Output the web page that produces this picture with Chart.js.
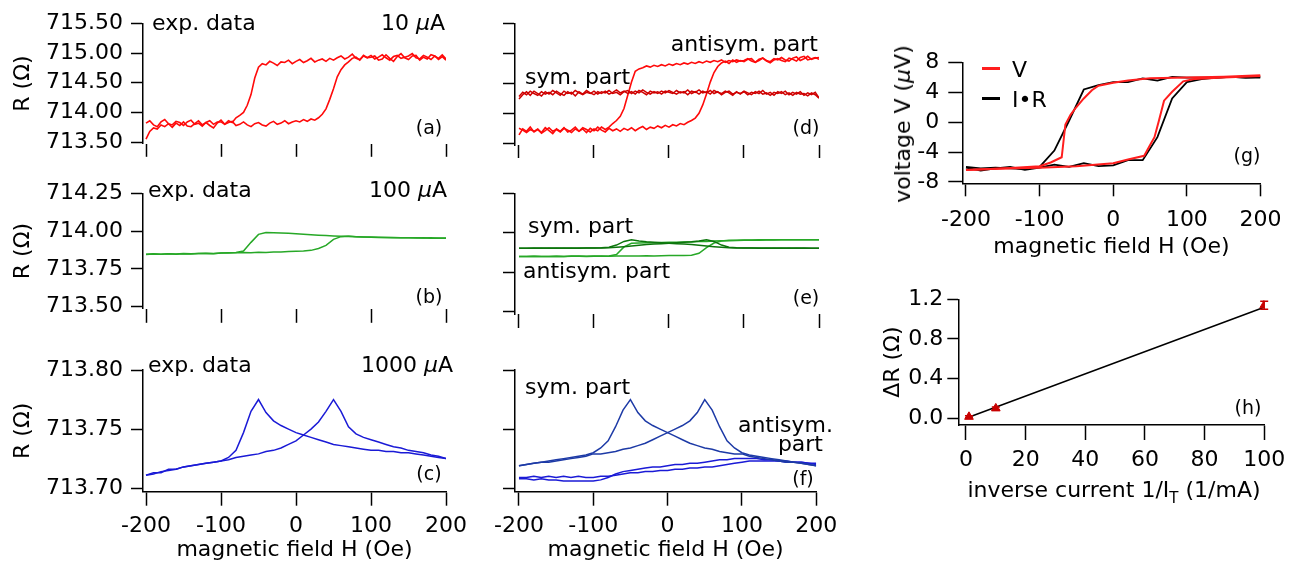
<!DOCTYPE html>
<html>
<head>
<meta charset="utf-8">
<script src="https://cdn.jsdelivr.net/npm/chart.js@4.4.0/dist/chart.umd.min.js"></script>
<style>
  body { margin: 0; background: #fff; }
  #fig { position: relative; width: 1292px; height: 565px; overflow: hidden; font-family: 'DejaVu Sans', sans-serif; color: #000; }
  #fig canvas { position: absolute; }
  .lbl { position: absolute; font-size: 22px; line-height: 1; white-space: nowrap; }
  .tag { font-size: 19px; }
  .key { position: absolute; height: 2.5px; width: 18px; }
</style>
</head>
<body>
<div id="fig">
  <canvas id="chartA"></canvas>
  <canvas id="chartB"></canvas>
  <canvas id="chartC"></canvas>
  <canvas id="chartD"></canvas>
  <canvas id="chartE"></canvas>
  <canvas id="chartF"></canvas>
  <canvas id="chartG"></canvas>
  <canvas id="chartH"></canvas>
</div>
<script>
'use strict';

// field sweeps (Oe)
const fieldFine = [
  -200, -195, -190, -185, -180, -175, -170, -165, -160, -155,
  -150, -145, -140, -135, -130, -125, -120, -115, -110, -105,
  -100, -95, -90, -85, -80, -75, -70, -65, -60, -55,
  -50, -45, -40, -35, -30, -25, -20, -15, -10, -5,
  0, 5, 10, 15, 20, 25, 30, 35, 40, 45,
  50, 55, 60, 65, 70, 75, 80, 85, 90, 95,
  100, 105, 110, 115, 120, 125, 130, 135, 140, 145,
  150, 155, 160, 165, 170, 175, 180, 185, 190, 195,
  200
];
const fieldCoarse = [
  -200, -190, -180, -170, -160, -150, -140, -130, -120, -110,
  -100, -90, -80, -70, -60, -50, -40, -30, -20, -10,
  0, 10, 20, 30, 40, 50, 60, 70, 80, 90,
  100, 110, 120, 130, 140, 150, 160, 170, 180, 190,
  200
];
const fieldStep20 = [-200, -180, -160, -140, -120, -100, -80, -60, -40, -20, 0, 20, 40, 60, 80, 100, 120, 140, 160, 180, 200];

// (a) 10 uA, exp. data
const rA_up = [
  713.55, 713.68, 713.74, 713.72, 713.79, 713.76, 713.81, 713.75, 713.82, 713.78,
  713.84, 713.77, 713.76, 713.81, 713.86, 713.79, 713.83, 713.78, 713.74, 713.82,
  713.87, 713.80, 713.83, 713.85, 713.78, 713.80, 713.84, 713.79, 713.76, 713.81,
  713.83, 713.79, 713.77, 713.82, 713.85, 713.80, 713.82, 713.86, 713.81, 713.84,
  713.86, 713.84, 713.88, 713.85, 713.89, 713.87, 713.91, 713.97, 714.06, 714.22,
  714.40, 714.60, 714.72, 714.80, 714.85, 714.91, 714.93, 714.88, 714.96, 714.92,
  714.93, 714.95, 714.88, 714.90, 714.97, 714.91, 714.86, 714.94, 714.99, 714.92,
  714.89, 714.95, 714.96, 714.88, 714.93, 714.90, 714.97, 714.95, 714.89, 714.94,
  714.88
];
const rA_down = [
  713.82, 713.86, 713.79, 713.76, 713.84, 713.88, 713.81, 713.79, 713.85, 713.83,
  713.78, 713.84, 713.87, 713.80, 713.82, 713.77, 713.83, 713.86, 713.80, 713.84,
  713.84, 713.80, 713.86, 713.83, 713.91, 713.95, 714.00, 714.12, 714.30, 714.58,
  714.76, 714.82, 714.80, 714.86, 714.83, 714.79, 714.85, 714.84, 714.88, 714.82,
  714.86, 714.89, 714.84, 714.87, 714.91, 714.85, 714.88, 714.90, 714.86, 714.91,
  714.88, 714.92, 714.95, 714.90, 714.93, 714.98, 714.91, 714.89, 714.95, 714.92,
  714.96, 714.90, 714.93, 714.97, 714.92, 714.88, 714.94, 714.96, 714.91, 714.93,
  714.95, 714.99, 714.92, 714.90, 714.96, 714.93, 714.89, 714.95, 714.91, 714.97,
  714.90
];

// (d) 10 uA, sym. / antisym. parts
const rD_antiUp = [
  713.64, 713.74, 713.70, 713.77, 713.69, 713.73, 713.68, 713.76, 713.71, 713.66,
  713.74, 713.70, 713.76, 713.69, 713.72, 713.77, 713.70, 713.74, 713.68, 713.75,
  713.71, 713.77, 713.72, 713.69, 713.75, 713.71, 713.74, 713.70, 713.75, 713.72,
  713.76, 713.71, 713.75, 713.78, 713.73, 713.77, 713.75, 713.79, 713.76, 713.80,
  713.77, 713.81, 713.79, 713.83, 713.81, 713.85, 713.88, 713.92, 714.00, 714.14,
  714.32, 714.52, 714.68, 714.78, 714.84, 714.87, 714.83, 714.89, 714.85, 714.88,
  714.86, 714.90, 714.91, 714.85, 714.88, 714.92, 714.87, 714.84, 714.89, 714.91,
  714.88, 714.86, 714.92, 714.90, 714.87, 714.93, 714.95, 714.89, 714.91, 714.93,
  714.90
];
const rD_antiDown = [
  713.75, 713.72, 713.68, 713.73, 713.70, 713.74, 713.67, 713.71, 713.76, 713.70,
  713.73, 713.69, 713.75, 713.72, 713.68, 713.74, 713.70, 713.76, 713.73, 713.69,
  713.74, 713.71, 713.77, 713.73, 713.77, 713.83, 713.88, 713.95, 714.08, 714.30,
  714.52, 714.70, 714.74, 714.76, 714.79, 714.77, 714.80, 714.78, 714.81, 714.79,
  714.82, 714.80, 714.83, 714.81, 714.84, 714.82, 714.85, 714.83, 714.86, 714.84,
  714.87, 714.85, 714.88, 714.86, 714.89, 714.85, 714.88, 714.86, 714.89, 714.87,
  714.88, 714.91, 714.87, 714.85, 714.90, 714.92, 714.88, 714.86, 714.91, 714.89,
  714.93, 714.89, 714.87, 714.92, 714.94, 714.88, 714.91, 714.95, 714.90, 714.92,
  714.93
];
const rD_symUp = [
  714.24, 714.31, 714.36, 714.30, 714.37, 714.33, 714.29, 714.36, 714.32, 714.38,
  714.34, 714.30, 714.37, 714.33, 714.35, 714.29, 714.36, 714.32, 714.38, 714.34,
  714.31, 714.36, 714.33, 714.37, 714.32, 714.35, 714.39, 714.34, 714.37, 714.33,
  714.36, 714.32, 714.38, 714.35, 714.31, 714.37, 714.34, 714.36, 714.32, 714.37,
  714.35, 714.33, 714.38, 714.34, 714.36, 714.31, 714.37, 714.35, 714.39, 714.34,
  714.36, 714.32, 714.38, 714.35, 714.33, 714.37, 714.34, 714.30, 714.36, 714.32,
  714.37, 714.34, 714.31, 714.36, 714.33, 714.38, 714.32, 714.35, 714.30, 714.36,
  714.33, 714.37, 714.31, 714.35, 714.32, 714.36, 714.30, 714.34, 714.31, 714.35,
  714.26
];
const rD_symDown = [
  714.28, 714.35, 714.31, 714.37, 714.33, 714.30, 714.36, 714.32, 714.35, 714.31,
  714.37, 714.33, 714.30, 714.36, 714.32, 714.38, 714.34, 714.31, 714.35, 714.33,
  714.37, 714.32, 714.36, 714.34, 714.38, 714.33, 714.35, 714.31, 714.36, 714.38,
  714.33, 714.37, 714.34, 714.39, 714.35, 714.32, 714.36, 714.33, 714.37, 714.34,
  714.38, 714.35, 714.32, 714.36, 714.34, 714.39, 714.33, 714.36, 714.32, 714.37,
  714.34, 714.38, 714.33, 714.36, 714.31, 714.35, 714.37, 714.32, 714.35, 714.33,
  714.36, 714.31, 714.35, 714.33, 714.37, 714.32, 714.34, 714.30, 714.35, 714.33,
  714.36, 714.31, 714.34, 714.30, 714.35, 714.32, 714.33, 714.29, 714.34, 714.31,
  714.25
];

// (b) 100 uA, exp. data
const rB_up = [
  713.845, 713.848, 713.846, 713.849, 713.847, 713.850, 713.848, 713.851, 713.852, 713.850,
  713.854, 713.855, 713.856, 713.858, 713.857, 713.860, 713.858, 713.862, 713.861, 713.864,
  713.866, 713.868, 713.872, 713.884, 713.905, 713.945, 713.963, 713.966, 713.963, 713.961,
  713.960, 713.959, 713.957, 713.958, 713.956, 713.955, 713.956, 713.954, 713.955, 713.953,
  713.954
];
const rB_down = [
  713.846, 713.849, 713.847, 713.850, 713.848, 713.851, 713.849, 713.852, 713.853, 713.852,
  713.855, 713.856, 713.858, 713.868, 713.925, 713.978, 713.990, 713.989, 713.987, 713.985,
  713.982, 713.979, 713.975, 713.972, 713.970, 713.968, 713.966, 713.965, 713.962, 713.960,
  713.959, 713.958, 713.957, 713.956, 713.956, 713.955, 713.954, 713.955, 713.953, 713.954,
  713.953
];

// (e) 100 uA, sym. / antisym. parts
const rE_antiUp = [
  713.850, 713.849, 713.851, 713.850, 713.849, 713.851, 713.850, 713.852, 713.851, 713.850,
  713.851, 713.852, 713.851, 713.852, 713.853, 713.852, 713.853, 713.854, 713.853, 713.854,
  713.855, 713.855, 713.856, 713.858, 713.870, 713.905, 713.935, 713.948, 713.952, 713.953,
  713.954, 713.954, 713.955, 713.955, 713.956, 713.955, 713.956, 713.956, 713.955, 713.956,
  713.955
];
const rE_antiDown = [
  713.850, 713.850, 713.851, 713.849, 713.850, 713.851, 713.850, 713.851, 713.852, 713.851,
  713.852, 713.851, 713.853, 713.862, 713.910, 713.933, 713.935, 713.936, 713.937, 713.938,
  713.939, 713.940, 713.941, 713.942, 713.944, 713.945, 713.947, 713.949, 713.950, 713.951,
  713.952, 713.953, 713.953, 713.954, 713.954, 713.955, 713.955, 713.955, 713.956, 713.955,
  713.956
];
const rE_symA = [
  713.902, 713.902, 713.903, 713.902, 713.903, 713.902, 713.903, 713.902, 713.903, 713.903,
  713.904, 713.905, 713.908, 713.922, 713.945, 713.955, 713.948, 713.943, 713.940, 713.937,
  713.934, 713.931, 713.928, 713.925, 713.921, 713.916, 713.912, 713.908, 713.905, 713.904,
  713.903, 713.903, 713.902, 713.903, 713.902, 713.903, 713.902, 713.903, 713.902, 713.902,
  713.902
];
const rE_symB = [
  713.902, 713.902, 713.902, 713.903, 713.902, 713.903, 713.902, 713.903, 713.902, 713.903,
  713.903, 713.904, 713.905, 713.908, 713.912, 713.916, 713.921, 713.925, 713.928, 713.931,
  713.934, 713.937, 713.940, 713.943, 713.948, 713.955, 713.945, 713.922, 713.908, 713.905,
  713.904, 713.903, 713.903, 713.902, 713.903, 713.902, 713.903, 713.902, 713.903, 713.902,
  713.902
];

// (c) 1000 uA, exp. data
const rC_up = [
  713.711, 713.713, 713.713, 713.716, 713.716, 713.718, 713.719, 713.720, 713.721, 713.722,
  713.723, 713.724, 713.726, 713.727, 713.728, 713.729, 713.731, 713.732, 713.734, 713.737,
  713.740, 713.745, 713.750, 713.756, 713.765, 713.775, 713.765, 713.752, 713.746, 713.743,
  713.741, 713.739, 713.737, 713.735, 713.734, 713.732, 713.731, 713.730, 713.728, 713.727,
  713.725
];
const rC_down = [
  713.711, 713.712, 713.714, 713.715, 713.716, 713.718, 713.719, 713.720, 713.721, 713.722,
  713.723, 713.726, 713.732, 713.747, 713.765, 713.775, 713.764, 713.757, 713.753, 713.750,
  713.747, 713.745, 713.743, 713.741, 713.739, 713.737, 713.736, 713.735, 713.734, 713.733,
  713.732, 713.732, 713.731, 713.731, 713.730, 713.730, 713.729, 713.728, 713.727, 713.726,
  713.725
];

// (f) 1000 uA, sym. / antisym. parts
const rF_symA = [
  713.719, 713.720, 713.721, 713.722, 713.723, 713.724, 713.725, 713.726, 713.727, 713.728,
  713.730, 713.734, 713.740, 713.752, 713.766, 713.775, 713.764, 713.757, 713.753, 713.750,
  713.747, 713.744, 713.741, 713.738, 713.736, 713.734, 713.733, 713.731, 713.730, 713.729,
  713.729, 713.727, 713.726, 713.725, 713.724, 713.723, 713.722, 713.722, 713.721, 713.720,
  713.719
];
const rF_symB = [
  713.719, 713.720, 713.721, 713.722, 713.722, 713.723, 713.724, 713.725, 713.726, 713.727,
  713.729, 713.729, 713.730, 713.731, 713.733, 713.734, 713.736, 713.738, 713.741, 713.744,
  713.747, 713.750, 713.753, 713.757, 713.764, 713.775, 713.766, 713.752, 713.740, 713.734,
  713.730, 713.728, 713.727, 713.726, 713.725, 713.724, 713.723, 713.722, 713.721, 713.720,
  713.719
];
const rF_antiP = [
  713.708, 713.708, 713.707, 713.708, 713.707, 713.707, 713.706, 713.706, 713.706, 713.706,
  713.706, 713.707, 713.709, 713.712, 713.714, 713.715, 713.716, 713.717, 713.718, 713.718,
  713.719, 713.720, 713.720, 713.721, 713.721, 713.722, 713.723, 713.724, 713.724, 713.725,
  713.725, 713.725, 713.725, 713.724, 713.724, 713.723, 713.723, 713.722, 713.722, 713.721,
  713.721
];
const rF_antiQ = [
  713.709, 713.709, 713.710, 713.709, 713.710, 713.709, 713.710, 713.709, 713.710, 713.709,
  713.709, 713.710, 713.710, 713.711, 713.712, 713.713, 713.713, 713.714, 713.714, 713.715,
  713.715, 713.716, 713.716, 713.717, 713.717, 713.718, 713.718, 713.719, 713.720, 713.721,
  713.722, 713.723, 713.723, 713.723, 713.723, 713.723, 713.722, 713.722, 713.722, 713.721,
  713.720
];

// (g) voltage loop: measured V and I*R
const vUpField = [-200, -150, -100, -50, 0, 20, 42, 51, 56, 62, 69, 80, 95, 110, 150, 200];
const vUp = [-6.4, -6.2, -6.1, -5.9, -5.5, -5.0, -4.5, -2.9, -2.0, 0.2, 2.9, 4.1, 5.5, 5.8, 6.0, 6.2];
const vDownField = [-200, -150, -100, -85, -70, -65, -58, -52, -40, -29, -20, 0, 20, 50, 100, 150, 200];
const vDown = [-6.4, -6.2, -5.9, -5.4, -4.7, -0.3, 1.0, 1.8, 3.2, 4.3, 4.9, 5.3, 5.6, 5.9, 6.0, 6.1, 6.3];
const irUp = [-6.1, -6.5, -6.2, -6.0, -6.4, -6.1, -5.7, -6.0, -5.5, -5.9, -5.8, -5.1, -5.1, -2.0, 3.2, 5.4, 5.8, 6.0, 6.1, 6.0, 6.0];
const irDown = [-6.0, -6.2, -6.1, -6.2, -6.3, -6.0, -3.8, 0.2, 4.4, 5.0, 5.4, 5.4, 5.9, 5.6, 6.1, 6.0, 6.0, 6.0, 6.1, 6.0, 6.1];

// (h) delta R vs inverse current
const invCurrent = [1, 10, 100];
const deltaR = [0.015, 0.10, 1.14];
const deltaRErr = [0.01, 0.015, 0.04];
const fitX = [0, 100];
const fitY = [0.0, 1.12];

// tick values
const ticksField = [-200, -100, 0, 100, 200];
const ticksA = [713.5, 714.0, 714.5, 715.0, 715.5];
const ticksB = [713.5, 713.75, 714.0, 714.25];
const ticksC = [713.70, 713.75, 713.80];
const ticksG = [-8, -4, 0, 4, 8];
const ticksHx = [0, 20, 40, 60, 80, 100];
const ticksHy = [0.0, 0.4, 0.8, 1.2];

Chart.defaults.font.family = "'DejaVu Sans', sans-serif";
Chart.defaults.font.size = 22;
Chart.defaults.color = '#000';

function pts(xs, ys) {
  return xs.map((x, i) => ({ x: x, y: ys[i] }));
}

function line(xs, ys, color, width, order) {
  return {
    data: pts(xs, ys), showLine: true, borderColor: color, backgroundColor: color,
    borderWidth: width, pointRadius: 0, tension: 0, order: order || 0
  };
}

function axis(o) {
  return {
    type: 'linear',
    min: o.min,
    max: o.max,
    afterBuildTicks: s => { s.ticks = o.ticks.map(v => ({ value: v })); },
    afterFit: s => {
      if (o.width != null) s.width = o.width;
      if (o.height != null) s.height = o.height;
    },
    border: { display: !!o.line, color: '#000', width: 1.5 },
    grid: { drawOnChartArea: false, drawTicks: true, tickLength: o.tick, tickWidth: 1.5, tickColor: '#000' },
    ticks: {
      display: !!o.fmt, padding: o.pad || 0, color: '#000', font: { size: 22 },
      maxRotation: 0, autoSkip: false,
      callback: o.fmt || (() => '')
    },
    title: o.title
      ? { display: true, text: o.title, color: '#000', font: { size: 22 }, padding: o.titlePad }
      : { display: false }
  };
}

// error bars drawn through the chart's own scales
const errorBars = {
  id: 'errorBars',
  afterDatasetsDraw(chart) {
    const ctx = chart.ctx;
    const xs = chart.scales.x, ys = chart.scales.y;
    chart.data.datasets.forEach(ds => {
      if (!ds.errors) return;
      ctx.save();
      ctx.strokeStyle = ds.borderColor;
      ctx.lineWidth = 1.5;
      ds.data.forEach((p, i) => {
        const px = xs.getPixelForValue(p.x);
        const top = ys.getPixelForValue(p.y + ds.errors[i]);
        const bot = ys.getPixelForValue(p.y - ds.errors[i]);
        ctx.beginPath();
        ctx.moveTo(px, top); ctx.lineTo(px, bot);
        ctx.moveTo(px - 4, top); ctx.lineTo(px + 4, top);
        ctx.moveTo(px - 4, bot); ctx.lineTo(px + 4, bot);
        ctx.stroke();
      });
      ctx.restore();
    });
  }
};

function makePanel(id, box, datasets, xAxis, yAxis) {
  const cv = document.getElementById(id);
  cv.width = box.w;
  cv.height = box.h;
  cv.style.left = box.left + 'px';
  cv.style.top = box.top + 'px';
  return new Chart(cv, {
    type: 'scatter',
    data: { datasets: datasets },
    options: {
      responsive: false,
      animation: false,
      layout: { autoPadding: false, padding: { left: 0, top: box.padTop, right: box.padRight, bottom: 0 } },
      plugins: { legend: { display: false }, tooltip: { enabled: false } },
      scales: { x: xAxis, y: yAxis }
    },
    plugins: [errorBars]
  });
}

const fmt2 = v => v.toFixed(2);
const fmtInt = v => String(v);
const fmt1 = v => v.toFixed(1);
const rTitle = 'R (\u03A9)';
const hTitle = 'magnetic field H (Oe)';

const red = '#ff0a0a', darkRed = '#cf0000';
const green = '#27a827', darkGreen = '#0c750c';
const blue = '#1a1ad6', navy = '#1d3aa6';

// left column
makePanel('chartA', { left: 0, top: 0, w: 470, h: 165, padTop: 23.3, padRight: 24 },
  [line(fieldFine, rA_up, red, 1.6), line(fieldFine, rA_down, red, 1.6)],
  axis({ min: -204, max: 200, ticks: ticksField, tick: 13, height: 20 }),
  axis({ min: 713.472, max: 715.5, ticks: ticksA, tick: 12, pad: 8, fmt: fmt2, line: true, width: 143,
    title: rTitle, titlePad: { top: 10, bottom: 0 } }));

makePanel('chartB', { left: 0, top: 165, w: 470, h: 165, padTop: 28.3, padRight: 24 },
  [line(fieldCoarse, rB_up, green, 1.5), line(fieldCoarse, rB_down, green, 1.5)],
  axis({ min: -204, max: 200, ticks: ticksField, tick: 14, height: 16 }),
  axis({ min: 713.485, max: 714.25, ticks: ticksB, tick: 12, pad: 8, fmt: fmt2, line: true, width: 143,
    title: rTitle, titlePad: { top: 10, bottom: 0 } }));

makePanel('chartC', { left: 0, top: 330, w: 475, h: 235, padTop: 40, padRight: 29 },
  [line(fieldCoarse, rC_up, blue, 1.5), line(fieldCoarse, rC_down, blue, 1.5)],
  axis({ min: -204, max: 200, ticks: ticksField, tick: 14, pad: 7.8, fmt: fmtInt, line: true, height: 73.3,
    title: hTitle, titlePad: { top: 0, bottom: 2 } }),
  axis({ min: 713.697, max: 713.80, ticks: ticksC, tick: 12, pad: 8, fmt: fmt2, line: true, width: 143,
    title: rTitle, titlePad: { top: 10, bottom: 0 } }));

// middle column
makePanel('chartD', { left: 470, top: 0, w: 370, h: 165, padTop: 23.3, padRight: 21 },
  [line(fieldFine, rD_symUp, darkRed, 1.5, 0), line(fieldFine, rD_symDown, darkRed, 1.5, 0),
   line(fieldFine, rD_antiUp, red, 1.6, 1), line(fieldFine, rD_antiDown, red, 1.6, 1)],
  axis({ min: -205.33, max: 200, ticks: ticksField, tick: 13, height: 20 }),
  axis({ min: 713.472, max: 715.5, ticks: ticksA, tick: 12, line: true, width: 45 }));

makePanel('chartE', { left: 470, top: 165, w: 370, h: 165, padTop: 28.3, padRight: 21 },
  [line(fieldCoarse, rE_symA, darkGreen, 1.5, 0), line(fieldCoarse, rE_symB, darkGreen, 1.5, 0),
   line(fieldCoarse, rE_antiUp, green, 1.5, 1), line(fieldCoarse, rE_antiDown, green, 1.5, 1)],
  axis({ min: -205.33, max: 200, ticks: ticksField, tick: 14, height: 16 }),
  axis({ min: 713.485, max: 714.25, ticks: ticksB, tick: 12, line: true, width: 45 }));

makePanel('chartF', { left: 470, top: 330, w: 375, h: 235, padTop: 40, padRight: 26 },
  [line(fieldCoarse, rF_symA, navy, 1.5, 0), line(fieldCoarse, rF_symB, navy, 1.5, 0),
   line(fieldCoarse, rF_antiP, blue, 1.5, 1), line(fieldCoarse, rF_antiQ, blue, 1.5, 1)],
  axis({ min: -205.33, max: 200, ticks: ticksField, tick: 14, pad: 7.8, fmt: fmtInt, line: true, height: 73.3,
    title: hTitle, titlePad: { top: 0, bottom: 2 } }),
  axis({ min: 713.697, max: 713.80, ticks: ticksC, tick: 12, line: true, width: 45 }));

// right column
makePanel('chartG', { left: 870, top: 30, w: 422, h: 240, padTop: 32.7, padRight: 27 },
  [line(vUpField, vUp, '#ff1e1e', 2, 0), line(vDownField, vDown, '#ff1e1e', 2, 0),
   line(fieldStep20, irUp, '#000', 1.8, 1), line(fieldStep20, irDown, '#000', 1.8, 1)],
  axis({ min: -205, max: 200, ticks: ticksField, tick: 13, pad: 10.5, fmt: fmtInt, line: true, height: 86.7,
    title: hTitle, titlePad: { top: 0, bottom: 10 } }),
  axis({ min: -8.2, max: 8, ticks: ticksG, tick: 14, pad: 9, fmt: fmtInt, line: true, width: 92.3 }));

makePanel('chartH', { left: 870, top: 270, w: 422, h: 295, padTop: 29.3, padRight: 27.7 },
  [{
    data: pts(invCurrent, deltaR), errors: deltaRErr, showLine: false,
    pointStyle: 'triangle', pointRadius: 5, borderColor: '#c80000', backgroundColor: '#c80000', order: 0
  }, line(fitX, fitY, '#000', 1.5, 1)],
  axis({ min: -2.58, max: 100, ticks: ticksHx, tick: 15, pad: 6.8, fmt: fmtInt, line: true, height: 140 }),
  axis({ min: -0.0676, max: 1.2, ticks: ticksHy, tick: 11, pad: 4, fmt: fmt1, line: true, width: 88.3,
    title: '\u0394R (\u03A9)', titlePad: { top: 10, bottom: 0 } }));

// annotations
const fig = document.getElementById('fig');
function addLabel(html, x, y, anchor, cls) {
  const d = document.createElement('div');
  d.className = 'lbl' + (cls ? ' ' + cls : '');
  d.innerHTML = html;
  d.style.left = x + 'px';
  d.style.top = y + 'px';
  const tx = anchor === 'r' ? '-100%' : anchor === 'c' ? '-50%' : '0';
  d.style.transform = 'translate(' + tx + ', -50%)';
  fig.appendChild(d);
  return d;
}

addLabel('exp. data', 152, 23, 'l');
addLabel('10 <i>\u03BC</i>A', 445, 23, 'r');
addLabel('(a)', 429, 127, 'c', 'tag');
addLabel('exp. data', 148, 190, 'l');
addLabel('100 <i>\u03BC</i>A', 447, 190, 'r');
addLabel('(b)', 429, 296, 'c', 'tag');
addLabel('exp. data', 148, 365, 'l');
addLabel('1000 <i>\u03BC</i>A', 453, 365, 'r');
addLabel('(c)', 429, 473, 'c', 'tag');

addLabel('sym. part', 525, 77, 'l');
addLabel('antisym. part', 818, 44, 'r');
addLabel('(d)', 806, 127, 'c', 'tag');
addLabel('sym. part', 528, 226, 'l');
addLabel('antisym. part', 523, 271, 'l');
addLabel('(e)', 806, 297, 'c', 'tag');
addLabel('sym. part', 525, 387, 'l');
addLabel('antisym.', 833, 425, 'r');
addLabel('part', 823, 444, 'r');
addLabel('(f)', 803, 478, 'c', 'tag');

// legend of (g)
function addKey(color, x, y) {
  const k = document.createElement('div');
  k.className = 'key';
  k.style.background = color;
  k.style.left = x + 'px';
  k.style.top = (y - 1.25) + 'px';
  fig.appendChild(k);
}
addKey('#ff1e1e', 982, 68.3);
addLabel('V', 1012, 70, 'l');
addKey('#000', 982, 98.3);
addLabel('I\u2022R', 1012, 100, 'l');
addLabel('(g)', 1247, 155, 'c', 'tag');
const vt = addLabel('voltage V (<i>\u03BC</i>V)', 903, 124, 'c');
vt.style.transform = 'translate(-50%, -50%) rotate(-90deg)';

addLabel('(h)', 1248, 407, 'c', 'tag');
addLabel('inverse current 1/I<span style="font-size:15px;position:relative;top:6px">T</span> (1/mA)', 1114, 490, 'c');
</script>
</body>
</html>
